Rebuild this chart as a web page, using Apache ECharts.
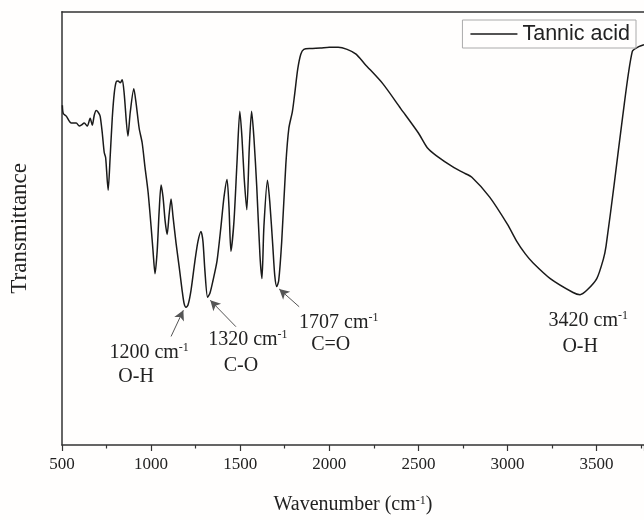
<!DOCTYPE html>
<html>
<head>
<meta charset="utf-8">
<script src="https://cdn.jsdelivr.net/npm/echarts@6/dist/echarts.min.js"></script>
<style>
html,body{margin:0;padding:0;background:#fffefd;}
#chart{width:644px;height:520px;}
</style>
</head>
<body>
<div id="chart"></div>
<script>
// Wavenumber (cm-1) and transmittance (arbitrary %)
const wavenumbers = [502,507,524,552,580,597,608,625,642,658,670,681,692,703,714,726,737,745,759,770,782,793,804,815,827,838,849,870,883,903,916,933,950,966,983,1000,1011,1022,1034,1045,1056,1067,1079,1090,1101,1112,1123,1140,1157,1174,1185,1196,1207,1224,1246,1263,1280,1291,1302,1317,1330,1347,1370,1392,1409,1426,1437,1448,1465,1482,1498,1510,1522,1537,1551,1564,1577,1593,1611,1622,1633,1653,1666,1683,1694,1705,1716,1733,1756,1773,1793,1806,1823,1840,1857,1896,1950,2000,2050,2100,2150,2200,2300,2400,2500,2550,2600,2700,2750,2800,2900,3000,3052,3100,3144,3240,3368,3407,3445,3501,3538,3553,3600,3645,3700,3740,3766];
const transmittance = [78.4,76.5,75.9,74.3,74.3,73.6,73.8,74.3,73.6,75.4,73.8,76.1,77.2,76.8,75.9,72.0,67.5,66.3,58.8,66.3,75.4,81.1,83.8,84.0,83.6,84.3,81.1,71.3,76.8,82.2,78.8,73.1,69.7,64.0,58.4,50.4,44.7,39.5,44.7,53.8,60.0,57.2,51.6,48.6,53.1,56.8,52.7,46.6,41.3,35.7,32.7,31.8,32.3,35.7,42.5,47.0,49.3,47.0,40.2,34.1,35.0,37.9,42.5,50.4,57.2,61.3,55.0,44.7,51.6,65.2,77.0,70.9,61.8,54.3,68.6,77.0,70.9,59.5,43.6,38.4,50.4,61.1,56.1,45.9,39.1,36.6,37.9,47.0,64.7,73.1,77.0,81.1,86.8,90.2,91.3,91.5,91.6,91.8,91.8,91.3,90.2,87.9,83.4,77.7,72.0,68.6,66.8,64.0,62.9,61.8,57.2,50.9,47.0,44.1,42.0,38.4,35.2,34.7,35.7,38.4,42.9,45.9,60.6,75.4,90.8,92.0,92.4];
const tickLabels = ['500','1000','1500','2000','2500','3000','3500'];

// Annotations
const annotationWave = ['1200 cm','1320 cm','1707 cm','3420 cm'];
const annotationGroup = ['O-H','C-O','C=O','O-H'];
const annotationPos = [[989,21.3],[1543,24.3],[2053,28.2],[3453,28.6]];
const groupPos = [[916,15.7],[1504,18.2],[2008,23.2],[3408,22.7]];
const arrowFrom = [[1112,25.05],[1476,27.3],[1831,31.9]];
const arrowTo = [[1181,31.1],[1332,33.4],[1719,36.0]];

const seriesData = wavenumbers.map((w,i)=>[w, transmittance[i]]);

const serif = 'Liberation Serif';
const mpData = [];
annotationWave.forEach((t,i)=>{
  mpData.push({coord: annotationPos[i], label:{formatter:'{n|'+t+'}{s|-1}'}});
  mpData.push({coord: groupPos[i], label:{formatter:'{n|'+annotationGroup[i]+'}'}});
});
const mlData = arrowFrom.map((f,i)=>[{coord:f},{coord:arrowTo[i]}]);

const chart = echarts.init(document.getElementById('chart'), null, {renderer:'canvas'});
chart.setOption({
  backgroundColor:'#fffefd',
  animation:false,
  grid:{left:60.7, right:0, top:11.7, bottom:68},
  legend:{
    data:[{name:'Tannic acid', icon:'rect'}],
    right:8, top:20,
    padding:[3,6,3,8],
    borderColor:'#aaaaaa', borderWidth:1,
    itemWidth:47, itemHeight:1.6,
    itemStyle:{color:'#1a1a1a'},
    textStyle:{fontFamily:'Liberation Sans', fontSize:21.5, color:'#222'}
  },
  xAxis:[{
    type:'value', min:500, max:3766, interval:500,
    name:'Wavenumber (cm{s|-1})',
    nameLocation:'middle', nameGap:50,
    nameTextStyle:{fontFamily:serif, fontSize:20, color:'#222',
      rich:{s:{fontFamily:serif, fontSize:12, verticalAlign:'top', lineHeight:12, color:'#222'}}},
    axisLine:{show:true, lineStyle:{color:'#333', width:1.5}},
    axisTick:{show:true, length:6, lineStyle:{color:'#333', width:1.2}},
    minorTick:{show:true, splitNumber:2, length:3.5, lineStyle:{color:'#333', width:1.2}},
    axisLabel:{fontFamily:serif, fontSize:17, color:'#222', margin:11, showMaxLabel:false,
      formatter:(v)=> tickLabels.indexOf(String(v))>=0 ? String(v) : ''},
    splitLine:{show:false}
  },{
    type:'value', min:500, max:3766, position:'top',
    axisLine:{show:true, lineStyle:{color:'#333', width:1.5}},
    axisTick:{show:false}, axisLabel:{show:false}, splitLine:{show:false}
  }],
  yAxis:{
    type:'value', min:0, max:100,
    name:'Transmittance', nameLocation:'middle', nameGap:31, nameRotate:90,
    nameTextStyle:{fontFamily:serif, fontSize:23, color:'#222'},
    axisLine:{show:true, lineStyle:{color:'#333', width:1.5}},
    axisTick:{show:false}, axisLabel:{show:false}, splitLine:{show:false}
  },
  series:[{
    name:'Tannic acid', type:'line', data:seriesData, symbol:'none',
    smooth:0.25,
    lineStyle:{color:'#1a1a1a', width:1.5},
    itemStyle:{color:'#1a1a1a'},
    markPoint:{
      symbol:'circle', symbolSize:1, silent:true,
      itemStyle:{color:'rgba(0,0,0,0)'},
      label:{show:true, position:'inside', color:'#222',
        rich:{n:{fontFamily:serif, fontSize:20, color:'#222', lineHeight:22},
              s:{fontFamily:serif, fontSize:12, color:'#222', verticalAlign:'top', lineHeight:12}}},
      data: mpData
    },
    markLine:{
      silent:true, symbol:['none','arrow'], symbolSize:[8,10],
      lineStyle:{color:'#555', width:1, type:'solid'},
      label:{show:false},
      data: mlData
    }
  }]
});
</script>
</body>
</html>
